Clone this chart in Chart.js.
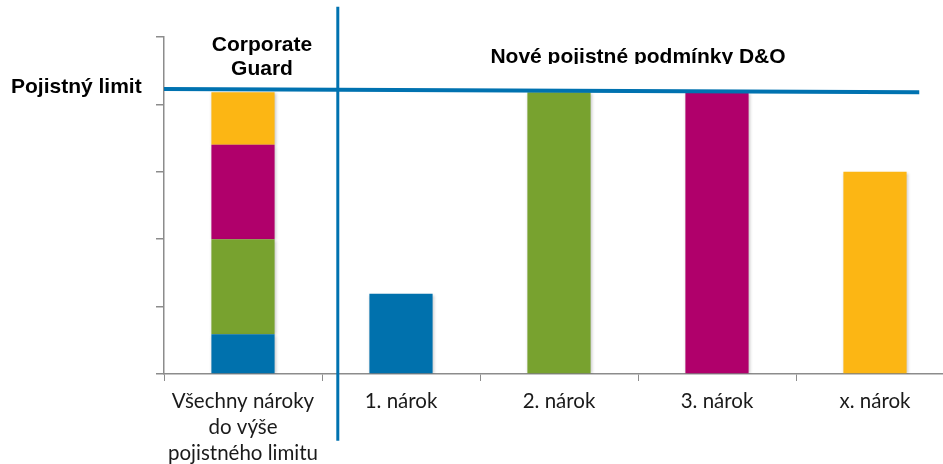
<!DOCTYPE html>
<html>
<head>
<meta charset="utf-8">
<script src="https://cdn.jsdelivr.net/npm/chart.js@4/dist/chart.umd.min.js"></script>
<style>
  html, body { margin: 0; padding: 0; background: #fff; overflow: hidden; }
  #wrap { width: 960px; height: 464px; }
</style>
</head>
<body>
<div id="wrap"><canvas id="chart" width="960" height="464"></canvas></div>
<script>
// Categories (multi-line tick labels)
const categories = [
  ["Všechny nároky", "do výše", "pojistného limitu"],
  "1. nárok",
  "2. nárok",
  "3. nárok",
  "x. nárok",
];

// Stacked series, values in "limit units" (axis 0..5)
const blueValues = [0.59, 1.19, 0, 0, 0];
const greenValues = [1.41, 0, 4.18, 0, 0];
const magentaValues = [1.40, 0, 0, 4.18, 0];
const yellowValues = [0.78, 0, 0, 0, 3.0];

const Y_MAX = 5;
const Y_STEP = 1;

// Insurance limit line (x in category index units, y in value units)
const limitLineX = [-0.5, 4.28];
const limitLineY = [4.23, 4.18];

// Divider between "Corporate Guard" and new conditions
const dividerX = 0.6;
const dividerY = [5.45, -0.99];

const COLORS = {
  blue: "#0071AD",
  green: "#78A22F",
  magenta: "#B0006B",
  yellow: "#FCB614",
  line: "#0072B0",
  axis: "#8c8c8c",
};

// soft shadow under the bars
const barShadow = {
  id: "barShadow",
  beforeDatasetsDraw(chart) {
    const ctx = chart.ctx;
    ctx.save();
    ctx.shadowColor = "rgba(0, 0, 0, 0.22)";
    ctx.shadowBlur = 3;
    ctx.shadowOffsetX = 1;
    ctx.shadowOffsetY = 1;
  },
  afterDatasetsDraw(chart) {
    chart.ctx.restore();
  },
};

const annotations = {
  id: "annotations",
  afterDatasetsDraw(chart) {
    const { ctx, scales } = chart;
    const x = scales.x, y = scales.y;
    ctx.save();

    // limit line
    ctx.strokeStyle = COLORS.line;
    ctx.lineWidth = 4;
    ctx.beginPath();
    ctx.moveTo(x.getPixelForValue(limitLineX[0]), y.getPixelForValue(limitLineY[0]));
    ctx.lineTo(x.getPixelForValue(limitLineX[1]), y.getPixelForValue(limitLineY[1]));
    ctx.stroke();

    // divider
    ctx.lineWidth = 3;
    ctx.beginPath();
    ctx.moveTo(x.getPixelForValue(dividerX), y.getPixelForValue(dividerY[0]));
    ctx.lineTo(x.getPixelForValue(dividerX), y.getPixelForValue(dividerY[1]));
    ctx.stroke();

    // texts
    ctx.fillStyle = "#000";
    ctx.font = 'bold 21px "Liberation Sans", Arial, sans-serif';
    ctx.textBaseline = "alphabetic";
    ctx.textAlign = "left";
    ctx.fillText("Pojistný limit", 11, 93);

    ctx.textAlign = "center";
    ctx.fillText("Corporate", 262, 51);
    ctx.fillText("Guard", 262, 75);

    // clipped heading
    ctx.save();
    ctx.beginPath();
    ctx.rect(400, 30, 500, 34);
    ctx.clip();
    ctx.fillText("Nové pojistné podmínky D&O", 638, 63);
    ctx.restore();

    ctx.restore();
  },
};

new Chart(document.getElementById("chart"), {
  type: "bar",
  data: {
    labels: categories,
    datasets: [
      { data: blueValues, backgroundColor: COLORS.blue },
      { data: greenValues, backgroundColor: COLORS.green },
      { data: magentaValues, backgroundColor: COLORS.magenta },
      { data: yellowValues, backgroundColor: COLORS.yellow },
    ],
  },
  options: {
    responsive: false,
    animation: false,
    categoryPercentage: 1,
    barPercentage: 0.4,
    layout: { padding: { left: 156, right: 6, top: 37, bottom: 0 } },
    plugins: { legend: { display: false }, tooltip: { enabled: false } },
    scales: {
      x: {
        stacked: true,
        grid: { drawOnChartArea: false, tickLength: 7, color: COLORS.axis },
        border: { color: COLORS.axis, width: 1.5 },
        ticks: {
          color: "#1a1a1a",
          padding: 8,
          maxRotation: 0,
          autoSkip: false,
          font: { family: "Lato, 'Open Sans', sans-serif", size: 20.5, lineHeight: 1.25 },
        },
        afterFit(scale) { scale.height = 90; },
      },
      y: {
        stacked: true,
        min: 0,
        max: Y_MAX,
        ticks: { stepSize: Y_STEP, display: false },
        grid: { drawOnChartArea: false, tickLength: 8, color: COLORS.axis, lineWidth: 1.5 },
        border: { color: COLORS.axis, width: 1.5 },
        afterFit(scale) { scale.width = 8; },
      },
    },
  },
  plugins: [barShadow, annotations],
});
</script>
</body>
</html>
